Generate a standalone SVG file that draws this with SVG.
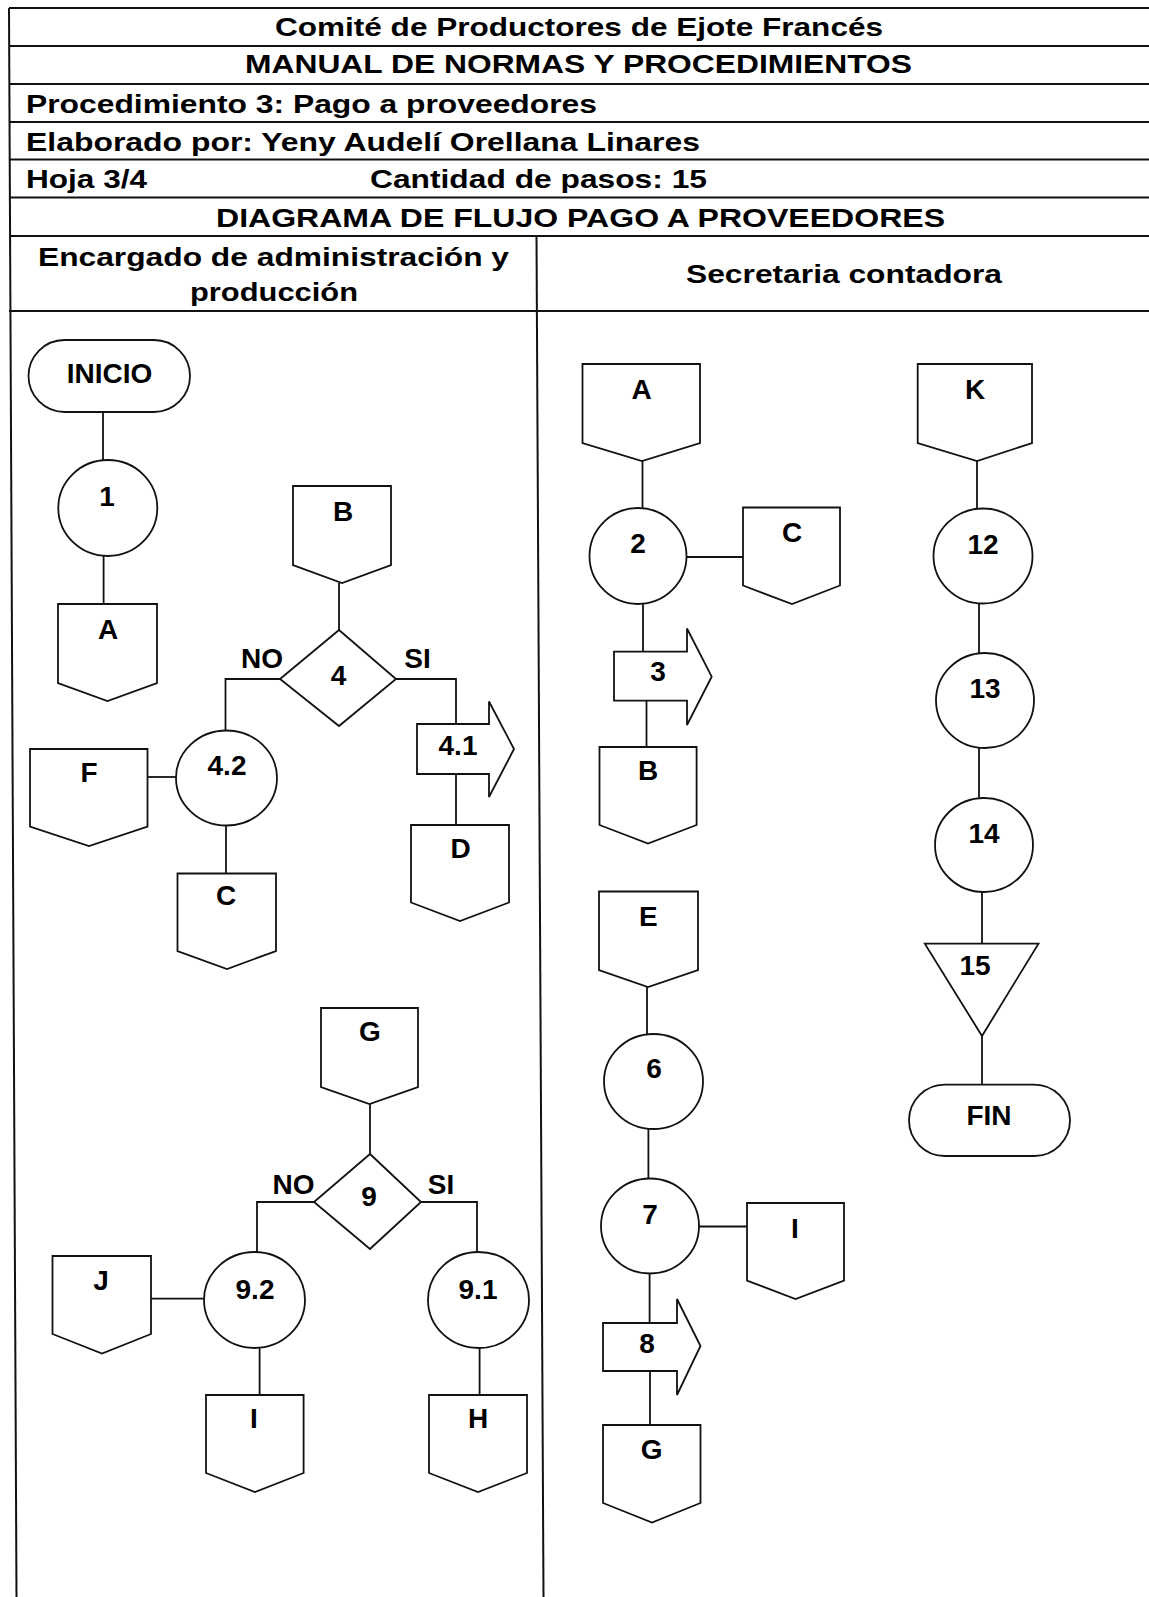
<svg xmlns="http://www.w3.org/2000/svg" width="1149" height="1597" viewBox="0 0 1149 1597">
<style>
.bg{fill:#fff}
.frame{stroke:#111;stroke-width:2;fill:none}
.ln{stroke:#111;stroke-width:1.8;fill:none}
.sh{fill:#fff;stroke:#111;stroke-width:1.8}
.hd{font-family:"Liberation Sans",Arial,sans-serif;font-weight:bold;font-size:26px;fill:#000}
.lb{font-family:"Liberation Sans",Arial,sans-serif;font-weight:bold;font-size:28px;fill:#000;text-anchor:middle}
</style>
<rect class="bg" x="0" y="0" width="1149" height="1597"/>
<g id="header">
<line class="frame" x1="9" y1="8" x2="1149" y2="8"/>
<line class="frame" x1="9" y1="46" x2="1149" y2="46"/>
<line class="frame" x1="9" y1="84" x2="1149" y2="84"/>
<line class="frame" x1="9" y1="122" x2="1149" y2="122"/>
<line class="frame" x1="9" y1="159.5" x2="1149" y2="159.5"/>
<line class="frame" x1="9" y1="197.5" x2="1149" y2="197.5"/>
<line class="frame" x1="9" y1="236" x2="1149" y2="236"/>
<line class="frame" x1="9" y1="311" x2="1149" y2="311"/>
<line class="frame" x1="9" y1="8" x2="16.5" y2="1597"/>
<line class="frame" x1="536.5" y1="236" x2="543.5" y2="1597"/>
<text class="hd" x="275" y="36" textLength="608" lengthAdjust="spacingAndGlyphs">Comité de Productores de Ejote Francés</text>
<text class="hd" x="245" y="73" textLength="667" lengthAdjust="spacingAndGlyphs">MANUAL DE NORMAS Y PROCEDIMIENTOS</text>
<text class="hd" x="26" y="113" textLength="571" lengthAdjust="spacingAndGlyphs">Procedimiento 3: Pago a proveedores</text>
<text class="hd" x="26" y="150.5" textLength="674" lengthAdjust="spacingAndGlyphs">Elaborado por: Yeny Audelí Orellana Linares</text>
<text class="hd" x="26" y="187.5" textLength="121" lengthAdjust="spacingAndGlyphs">Hoja 3/4</text>
<text class="hd" x="370" y="187.5" textLength="337" lengthAdjust="spacingAndGlyphs">Cantidad de pasos: 15</text>
<text class="hd" x="216" y="227" textLength="729" lengthAdjust="spacingAndGlyphs">DIAGRAMA DE FLUJO PAGO A PROVEEDORES</text>
<text class="hd" x="38" y="266" textLength="471" lengthAdjust="spacingAndGlyphs">Encargado de administración y</text>
<text class="hd" x="190" y="301" textLength="168" lengthAdjust="spacingAndGlyphs">producción</text>
<text class="hd" x="686" y="283" textLength="316" lengthAdjust="spacingAndGlyphs">Secretaria contadora</text>
</g>
<g id="connectors">
<polyline class="ln" points="103,411 103,461"/>
<polyline class="ln" points="103.6,555 103.6,604"/>
<polyline class="ln" points="339,583 339,630"/>
<polyline class="ln" points="280,679 225.5,679 225.5,731"/>
<polyline class="ln" points="396,679 456,679 456,724"/>
<polyline class="ln" points="456,774 456,825"/>
<polyline class="ln" points="147.5,777 176,777"/>
<polyline class="ln" points="226,825 226,873.5"/>
<polyline class="ln" points="370,1104 370,1154"/>
<polyline class="ln" points="314,1202 257,1202 257,1252.5"/>
<polyline class="ln" points="421,1202 477,1202 477,1252.5"/>
<polyline class="ln" points="151,1298.6 204,1298.6"/>
<polyline class="ln" points="259.6,1348 259.6,1395"/>
<polyline class="ln" points="479.6,1348 479.6,1395"/>
<polyline class="ln" points="642.5,461 642.5,508.5"/>
<polyline class="ln" points="687,557 743,557"/>
<polyline class="ln" points="643,603.5 643,651.7"/>
<polyline class="ln" points="646.5,700.6 646.5,747"/>
<polyline class="ln" points="647,987 647,1034"/>
<polyline class="ln" points="648.4,1129 648.4,1178.6"/>
<polyline class="ln" points="699,1226.5 747,1226.5"/>
<polyline class="ln" points="649.6,1273.5 649.6,1323"/>
<polyline class="ln" points="650,1371 650,1425"/>
<polyline class="ln" points="977,461 977,508.6"/>
<polyline class="ln" points="979,603.5 979,653"/>
<polyline class="ln" points="979,748 979,797.6"/>
<polyline class="ln" points="982,892 982,943.6"/>
<polyline class="ln" points="982,1036 982,1084.6"/>
</g>
<g id="n-inicio"><rect class="sh" x="28.5" y="340" width="161.5" height="72" rx="36" ry="36"/><text class="lb" x="109.5" y="383">INICIO</text></g>
<g id="n-1"><ellipse class="sh" cx="107.8" cy="508" rx="49.5" ry="48"/><text class="lb" x="107" y="505.5">1</text></g>
<g id="n-A-left"><path class="sh" d="M58 604 H157 V683 L107.5 701 L58 683 Z"/><text class="lb" x="108" y="639">A</text></g>
<g id="n-B-left"><path class="sh" d="M293 486 H391 V565 L342 583 L293 565 Z"/><text class="lb" x="343" y="521">B</text></g>
<g id="n-4"><polygon class="sh" points="339,630 396,679 339,726 280,679"/><text class="lb" x="338.6" y="685">4</text><text class="lb" x="262" y="668">NO</text><text class="lb" x="417.5" y="668">SI</text></g>
<g id="n-4-1"><path class="sh" d="M417 724 H489 V701.5 L514 749 L489 797 V774 H417 Z"/><text class="lb" x="458" y="755">4.1</text></g>
<g id="n-D"><path class="sh" d="M411 825 H509 V902.5 L460 921 L411 902.5 Z"/><text class="lb" x="460.7" y="858">D</text></g>
<g id="n-4-2"><ellipse class="sh" cx="226.5" cy="778" rx="50.5" ry="47.5"/><text class="lb" x="227" y="775">4.2</text></g>
<g id="n-F"><path class="sh" d="M30 749 H147.5 V826.6 L89 846 L30 826.6 Z"/><text class="lb" x="89" y="782">F</text></g>
<g id="n-C-left"><path class="sh" d="M177.5 873.5 H276 V951 L227 969 L177.5 951 Z"/><text class="lb" x="226" y="905">C</text></g>
<g id="n-G-left"><path class="sh" d="M321 1008 H418 V1087 L369.5 1104 L321 1087 Z"/><text class="lb" x="370" y="1041">G</text></g>
<g id="n-9"><polygon class="sh" points="370,1154 421,1202 370,1249 314,1202"/><text class="lb" x="369" y="1206">9</text><text class="lb" x="293.5" y="1194">NO</text><text class="lb" x="441" y="1194">SI</text></g>
<g id="n-9-2"><ellipse class="sh" cx="254.5" cy="1300" rx="50.5" ry="48"/><text class="lb" x="255" y="1299">9.2</text></g>
<g id="n-9-1"><ellipse class="sh" cx="478.5" cy="1300" rx="50.5" ry="48"/><text class="lb" x="478" y="1299">9.1</text></g>
<g id="n-J"><path class="sh" d="M52.5 1256 H151 V1334 L102 1353.5 L52.5 1334 Z"/><text class="lb" x="101" y="1290">J</text></g>
<g id="n-I-left"><path class="sh" d="M206 1395 H303.6 V1473 L255 1492 L206 1473 Z"/><text class="lb" x="254" y="1427.5">I</text></g>
<g id="n-H"><path class="sh" d="M429 1395 H527 V1473 L478 1492 L429 1473 Z"/><text class="lb" x="478" y="1427.5">H</text></g>
<g id="n-A-right"><path class="sh" d="M582.5 364 H700 V443 L642 461 L582.5 443 Z"/><text class="lb" x="641.7" y="399">A</text></g>
<g id="n-2"><ellipse class="sh" cx="638" cy="556" rx="48.5" ry="48"/><text class="lb" x="638" y="553">2</text></g>
<g id="n-C-right"><path class="sh" d="M743 507.5 H840 V585.5 L792 604 L743 585.5 Z"/><text class="lb" x="792" y="542">C</text></g>
<g id="n-3"><path class="sh" d="M614 651.7 H687 V628.5 L711.7 676.7 L687 725 V700.7 H614 Z"/><text class="lb" x="658" y="680.7">3</text></g>
<g id="n-B-right"><path class="sh" d="M599.5 747 H696.6 V825 L648 843.6 L599.5 825 Z"/><text class="lb" x="648" y="780">B</text></g>
<g id="n-E"><path class="sh" d="M599 891.5 H698 V970 L648 987 L599 970 Z"/><text class="lb" x="648.4" y="925.8">E</text></g>
<g id="n-6"><ellipse class="sh" cx="653.5" cy="1081.5" rx="49.5" ry="47.5"/><text class="lb" x="654" y="1078">6</text></g>
<g id="n-7"><ellipse class="sh" cx="650" cy="1226" rx="49" ry="47.5"/><text class="lb" x="650" y="1224">7</text></g>
<g id="n-I-right"><path class="sh" d="M747 1203 H844 V1280.6 L795.5 1299 L747 1280.6 Z"/><text class="lb" x="795" y="1238">I</text></g>
<g id="n-8"><path class="sh" d="M603 1323 H677 V1299 L700.5 1346 L677 1395 V1371 H603 Z"/><text class="lb" x="647" y="1352.5">8</text></g>
<g id="n-G-right"><path class="sh" d="M603 1425 H700.5 V1503 L652 1522.6 L603 1503 Z"/><text class="lb" x="651.6" y="1459">G</text></g>
<g id="n-K"><path class="sh" d="M917.7 364 H1032 V443 L977 461 L917.7 443 Z"/><text class="lb" x="975" y="399">K</text></g>
<g id="n-12"><ellipse class="sh" cx="983" cy="556" rx="49.5" ry="47.5"/><text class="lb" x="983" y="554">12</text></g>
<g id="n-13"><ellipse class="sh" cx="985" cy="700.5" rx="49" ry="47.5"/><text class="lb" x="985" y="698">13</text></g>
<g id="n-14"><ellipse class="sh" cx="984" cy="845" rx="49" ry="47"/><text class="lb" x="984" y="843">14</text></g>
<g id="n-15"><polygon class="sh" points="924.8,943.6 1038.5,943.6 982,1036"/><text class="lb" x="975" y="975">15</text></g>
<g id="n-fin"><rect class="sh" x="909" y="1084.6" width="161" height="71.4" rx="35.7" ry="35.7"/><text class="lb" x="989" y="1125">FIN</text></g>
</svg>
